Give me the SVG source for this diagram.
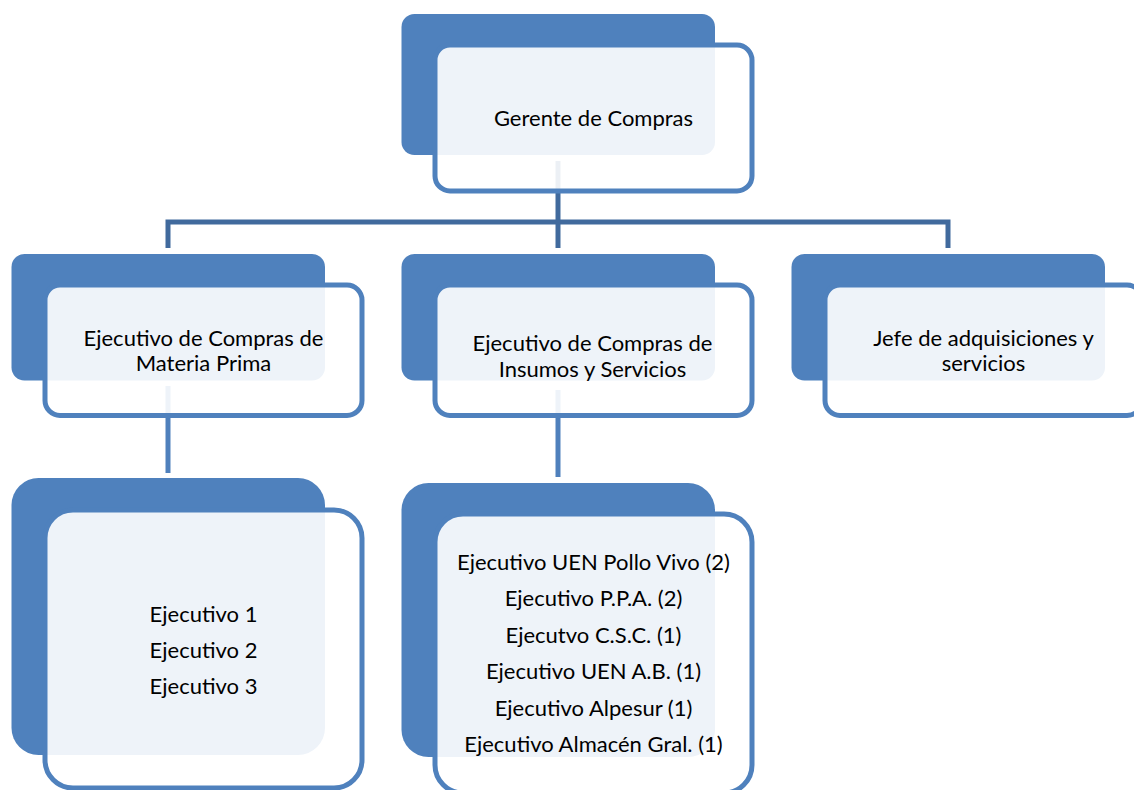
<svg xmlns="http://www.w3.org/2000/svg" width="1134" height="790" viewBox="0 0 1134 790">
  <style>
    .back { fill: #4F81BD; }
    .front { fill: #FFFFFF; fill-opacity: 0.9; stroke: #4F81BD; stroke-width: 5; }
    .lbl { font-family: Lato, "Liberation Sans", sans-serif; font-size: 22px; fill: #000000; text-anchor: middle; }
    .link-top { fill: none; stroke: #416A9D; stroke-width: 5; stroke-linejoin: miter; }
    .link-sub { fill: none; stroke: #4F80BC; stroke-width: 5; }
  </style>
  <rect width="1134" height="790" fill="#FFFFFF"/>

  <!-- connectors (drawn first so the translucent cards sit over them) -->
  <g id="connectors">
    <path class="link-top" d="M558 161 V248"/>
    <path class="link-top" d="M168 248 V222 H948 V248"/>
    <path class="link-sub" d="M168 386 V473"/>
    <path class="link-sub" d="M558 390 V477"/>
  </g>

  <g id="gerente">
    <rect class="back" x="401.5" y="14" width="313.5" height="141" rx="13"/>
    <rect class="front" x="435" y="45" width="317" height="146" rx="15"/>
    <text class="lbl" x="593.5" y="126">Gerente de Compras</text>
  </g>

  <g id="ejecutivo-materia-prima">
    <rect class="back" x="11.5" y="254" width="313.5" height="126.5" rx="13"/>
    <rect class="front" x="45" y="285" width="317" height="130.5" rx="15"/>
    <text class="lbl" x="203.5" y="346">Ejecutivo de Compras de</text>
    <text class="lbl" x="203.5" y="371">Materia Prima</text>
  </g>

  <g id="ejecutivo-insumos">
    <rect class="back" x="401.5" y="254" width="313.5" height="126.5" rx="13"/>
    <rect class="front" x="435" y="285" width="317" height="130.5" rx="15"/>
    <text class="lbl" x="592.5" y="350.5">Ejecutivo de Compras de</text>
    <text class="lbl" x="592.5" y="377">Insumos y Servicios</text>
  </g>

  <g id="jefe-adquisiciones">
    <rect class="back" x="791.5" y="254" width="313.5" height="126.5" rx="13"/>
    <rect class="front" x="825" y="285" width="317" height="130.5" rx="15"/>
    <text class="lbl" x="983.5" y="346">Jefe de adquisiciones y</text>
    <text class="lbl" x="983.5" y="371">servicios</text>
  </g>

  <g id="ejecutivos-materia-prima">
    <rect class="back" x="11.5" y="478" width="313.5" height="277" rx="27"/>
    <rect class="front" x="45" y="510" width="317" height="278" rx="28"/>
    <text class="lbl" x="203.5" y="621.5">Ejecutivo 1</text>
    <text class="lbl" x="203.5" y="657.5">Ejecutivo 2</text>
    <text class="lbl" x="203.5" y="693.5">Ejecutivo 3</text>
  </g>

  <g id="ejecutivos-insumos">
    <rect class="back" x="401.5" y="483" width="313.5" height="274" rx="27"/>
    <rect class="front" x="435" y="514" width="317" height="279" rx="28"/>
    <text class="lbl" x="593.5" y="569.5">Ejecutivo UEN Pollo Vivo (2)</text>
    <text class="lbl" x="593.5" y="606">Ejecutivo P.P.A. (2)</text>
    <text class="lbl" x="593.5" y="642.5">Ejecutvo C.S.C. (1)</text>
    <text class="lbl" x="593.5" y="679">Ejecutivo UEN A.B. (1)</text>
    <text class="lbl" x="593.5" y="716">Ejecutivo Alpesur (1)</text>
    <text class="lbl" x="593.5" y="752">Ejecutivo Almacén Gral. (1)</text>
  </g>
</svg>
